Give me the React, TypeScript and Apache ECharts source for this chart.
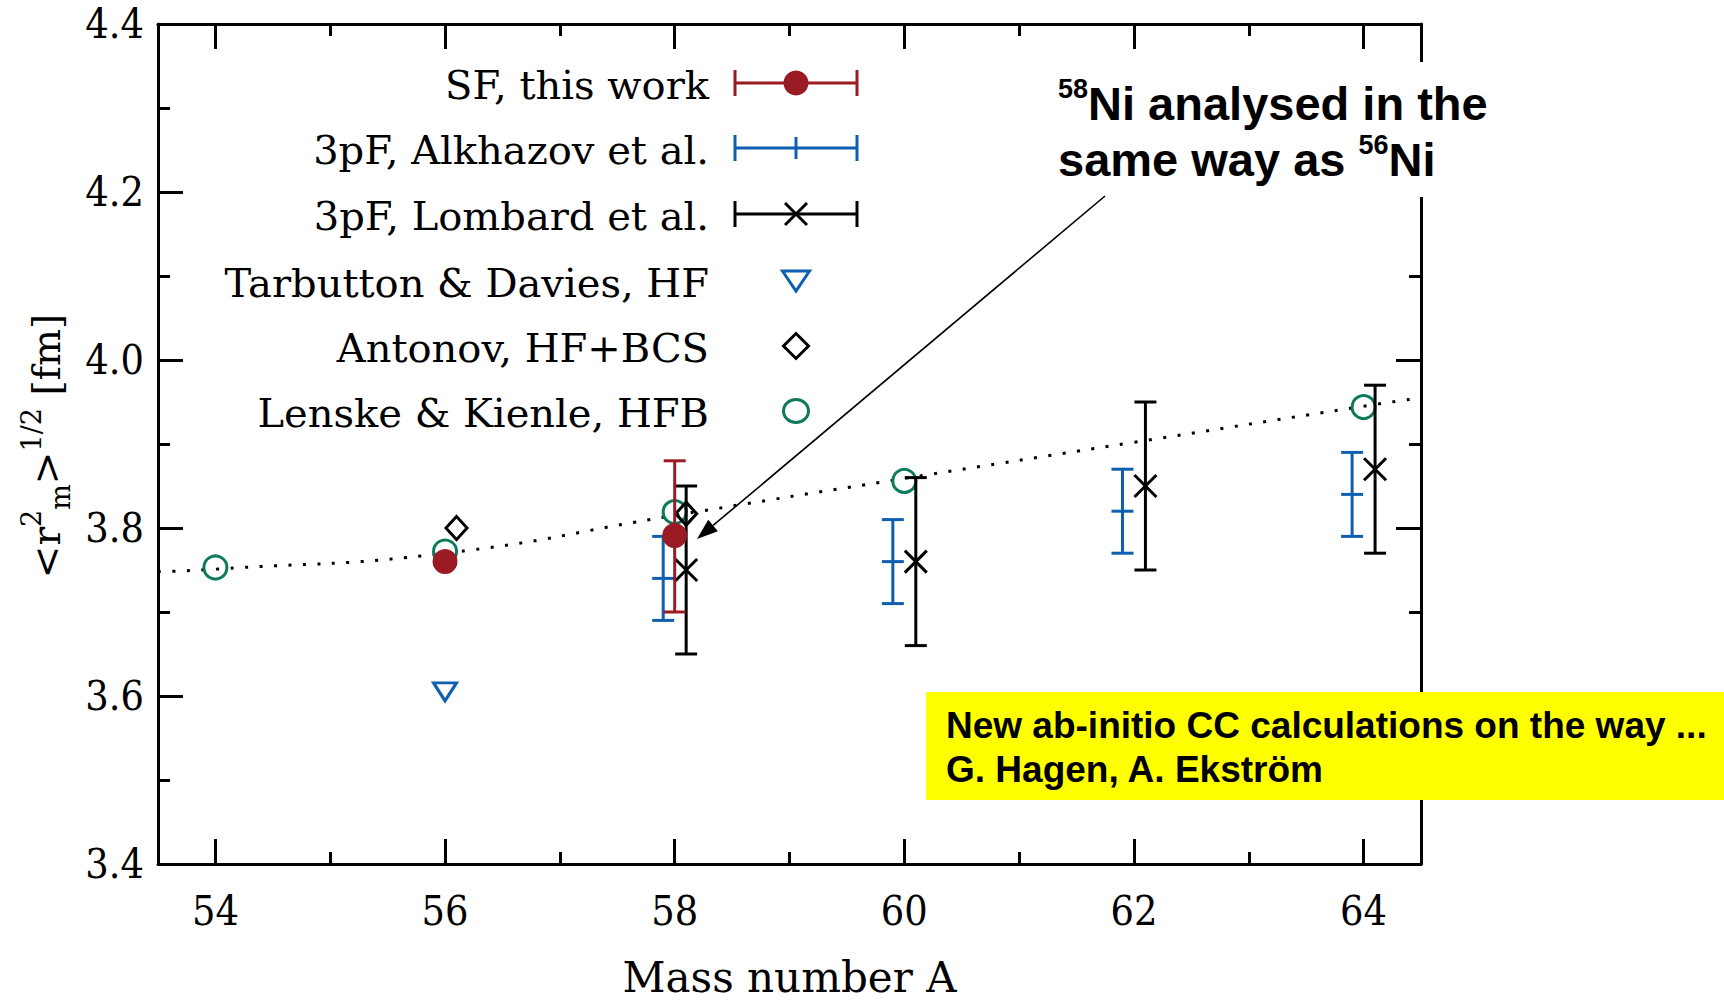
import React, { useEffect, useRef } from "react";
import * as echarts from "echarts";

// ---------- data ----------
const xMajorTicks = [54, 56, 58, 60, 62, 64];
const xMinorTicks = [55, 57, 59, 61, 63];

// SF, this work
const sfA = [56, 58];
const sfR = [3.76, 3.791];
const sfLo = [3.76, 3.7];
const sfHi = [3.76, 3.88];

// 3pF, Alkhazov et al.
const alkA = [57.9, 59.9, 61.9, 63.9];
const alkR = [3.74, 3.76, 3.82, 3.84];
const alkLo = [3.69, 3.71, 3.77, 3.79];
const alkHi = [3.79, 3.81, 3.87, 3.89];

// 3pF, Lombard et al.
const lomA = [58.1, 60.1, 62.1, 64.1];
const lomR = [3.75, 3.76, 3.85, 3.87];
const lomLo = [3.65, 3.66, 3.75, 3.77];
const lomHi = [3.85, 3.86, 3.95, 3.97];

// Tarbutton & Davies, HF
const tarA = [56];
const tarR = [3.605];

// Antonov, HF+BCS
const antA = [56.1, 58.1];
const antR = [3.8, 3.817];

// Lenske & Kienle, HFB
const lenA = [54, 56, 58, 60, 64];
const lenR = [3.753, 3.772, 3.819, 3.856, 3.944];

// dotted trend curve
const trendA = [53.5, 54, 56, 58, 60, 62, 64, 64.5];
const trendR = [3.748, 3.751, 3.77, 3.815, 3.859, 3.902, 3.945, 3.955];

const legendLabels = [
  "SF, this work",
  "3pF, Alkhazov et al.",
  "3pF, Lombard et al.",
  "Tarbutton & Davies, HF",
  "Antonov, HF+BCS",
  "Lenske & Kienle, HFB",
];
const xTitle = "Mass number A";
const noteLines = ["New ab-initio CC calculations on the way ...", "G. Hagen, A. Ekström"];

// ---------- styles ----------
const RED = "#9b1b24";
const BLUE = "#0f5fb0";
const GREEN = "#0e7a5c";
const BLACK = "#000000";
const SERIF = "DejaVu Serif";
const TICKFONT = "'DejaVu Serif Condensed', 'DejaVu Serif'";
const SANS = "Liberation Sans";

const errorBarRender = (color: string, marker: string) => (params: any, api: any) => {
  const x = api.value(0);
  const y = api.value(1);
  const lo = api.value(2);
  const hi = api.value(3);
  const c = api.coord([x, y]);
  const top = api.coord([x, hi])[1];
  const bot = api.coord([x, lo])[1];
  const hw = 11;
  const st = { stroke: color, lineWidth: 3, fill: null };
  const children: any[] = [];
  if (hi > lo) {
    children.push({ type: "line", shape: { x1: c[0], y1: top, x2: c[0], y2: bot }, style: st });
    children.push({ type: "line", shape: { x1: c[0] - hw, y1: top, x2: c[0] + hw, y2: top }, style: st });
    children.push({ type: "line", shape: { x1: c[0] - hw, y1: bot, x2: c[0] + hw, y2: bot }, style: st });
  }
  if (marker === "dot") {
    children.push({ type: "circle", shape: { cx: c[0], cy: c[1], r: 12.5 }, style: { fill: color } });
  } else if (marker === "tick") {
    children.push({ type: "line", shape: { x1: c[0] - hw, y1: c[1], x2: c[0] + hw, y2: c[1] }, style: st });
  } else if (marker === "cross") {
    children.push({ type: "line", shape: { x1: c[0] - 11, y1: c[1] - 11, x2: c[0] + 11, y2: c[1] + 11 }, style: st });
    children.push({ type: "line", shape: { x1: c[0] - 11, y1: c[1] + 11, x2: c[0] + 11, y2: c[1] - 11 }, style: st });
  }
  return { type: "group", children };
};

function legendGraphics(): any[] {
  const rows = [83, 148, 214, 281, 346, 411];
  const tx = 709;
  const x0 = 735;
  const x1 = 857;
  const cx = 796;
  const Z = 100;
  const els: any[] = [];
  rows.forEach((ry, i) => {
    els.push({
      type: "text",
      z: Z,
      x: tx,
      y: ry + 2,
      style: { text: legendLabels[i], align: "right", verticalAlign: "middle", fontSize: 40, fontFamily: SERIF, fill: BLACK },
    });
  });
  const bar = (ry: number, color: string) => {
    const st = { stroke: color, lineWidth: 3 };
    els.push({ type: "line", z: Z, shape: { x1: x0, y1: ry, x2: x1, y2: ry }, style: st });
    els.push({ type: "line", z: Z, shape: { x1: x0, y1: ry - 13, x2: x0, y2: ry + 13 }, style: st });
    els.push({ type: "line", z: Z, shape: { x1: x1, y1: ry - 13, x2: x1, y2: ry + 13 }, style: st });
  };
  bar(rows[0], RED);
  els.push({ type: "circle", z: Z, shape: { cx, cy: rows[0], r: 12.5 }, style: { fill: RED } });
  bar(rows[1], BLUE);
  els.push({ type: "line", z: Z, shape: { x1: cx, y1: rows[1] - 11, x2: cx, y2: rows[1] + 11 }, style: { stroke: BLUE, lineWidth: 3 } });
  bar(rows[2], BLACK);
  els.push({ type: "line", z: Z, shape: { x1: cx - 11, y1: rows[2] - 11, x2: cx + 11, y2: rows[2] + 11 }, style: { stroke: BLACK, lineWidth: 3 } });
  els.push({ type: "line", z: Z, shape: { x1: cx - 11, y1: rows[2] + 11, x2: cx + 11, y2: rows[2] - 11 }, style: { stroke: BLACK, lineWidth: 3 } });
  els.push({
    type: "polygon",
    z: Z,
    shape: { points: [[cx - 13.5, rows[3] - 10], [cx + 13.5, rows[3] - 10], [cx, rows[3] + 10]] },
    style: { fill: "none", stroke: BLUE, lineWidth: 3 },
  });
  els.push({
    type: "polygon",
    z: Z,
    shape: { points: [[cx, rows[4] - 12.5], [cx + 12.5, rows[4]], [cx, rows[4] + 12.5], [cx - 12.5, rows[4]]] },
    style: { fill: "none", stroke: BLACK, lineWidth: 3 },
  });
  els.push({ type: "ellipse", z: Z, shape: { cx, cy: rows[5], rx: 12.5, ry: 11.5 }, style: { fill: "none", stroke: GREEN, lineWidth: 3 } });
  return els;
}

function annotationGraphics(): any[] {
  const Z = 100;
  const tail = [1105, 196];
  const tip = [697, 539];
  const dx = tip[0] - tail[0];
  const dy = tip[1] - tail[1];
  const len = Math.sqrt(dx * dx + dy * dy);
  const ux = dx / len;
  const uy = dy / len;
  const hl = 21;
  const hw = 7.5;
  const bx = tip[0] - ux * hl;
  const by = tip[1] - uy * hl;
  const nx = -uy;
  const ny = ux;
  return [
    { type: "rect", z: Z - 1, shape: { x: 1045, y: 62, width: 470, height: 135 }, style: { fill: "#ffffff" } },
    {
      type: "text",
      z: Z,
      x: 1058,
      y: 75,
      style: {
        text: "{s|58}{b|Ni analysed in the}\n{b|same way as }{s|56}{b|Ni}",
        align: "left",
        verticalAlign: "top",
        rich: {
          b: { fontSize: 47, fontWeight: "bold", fontFamily: SANS, lineHeight: 56, fill: BLACK },
          s: { fontSize: 27, fontWeight: "bold", fontFamily: SANS, lineHeight: 42, verticalAlign: "top", fill: BLACK },
        },
      },
    },
    { type: "line", z: Z, shape: { x1: tail[0], y1: tail[1], x2: bx, y2: by }, style: { stroke: BLACK, lineWidth: 1.6 } },
    {
      type: "polygon",
      z: Z,
      shape: { points: [[tip[0], tip[1]], [bx + nx * hw, by + ny * hw], [bx - nx * hw, by - ny * hw]] },
      style: { fill: BLACK },
    },
    { type: "rect", z: Z - 1, shape: { x: 926, y: 692, width: 798, height: 108 }, style: { fill: "#ffff00" } },
    {
      type: "text",
      z: Z,
      x: 946,
      y: 703,
      style: {
        text: noteLines.join("\n"),
        align: "left",
        verticalAlign: "top",
        fontSize: 37,
        fontWeight: "bold",
        fontFamily: SANS,
        lineHeight: 44,
        fill: BLACK,
      },
    },
    {
      type: "text",
      z: Z,
      x: 46,
      y: 446,
      rotation: Math.PI / 2,
      style: {
        text: "{b|<r}{p|2}{m|m}{b|>}{p|1/2}{b| [fm]}",
        align: "center",
        verticalAlign: "middle",
        rich: {
          b: { fontSize: 39, fontFamily: SERIF, lineHeight: 56, fill: BLACK },
          p: { fontSize: 27, fontFamily: SERIF, lineHeight: 28, verticalAlign: "top", fill: BLACK },
          m: { fontSize: 27, fontFamily: SERIF, lineHeight: 28, verticalAlign: "bottom", fill: BLACK },
        },
      },
    },
  ];
}

function makeXAxis(position: string, ticks: number[], len: number, main: boolean): any {
  return {
    type: "value",
    min: 53.5,
    max: 64.5,
    position,
    axisLine: { show: main, onZero: false, lineStyle: { color: BLACK, width: 3 } },
    axisTick: { show: true, inside: true, length: len, customValues: ticks, lineStyle: { color: BLACK, width: 3 } },
    axisLabel: { show: false },
    splitLine: { show: false },
  };
}

function makeYAxis(position: string, labels: boolean): any {
  return {
    type: "value",
    min: 3.4,
    max: 4.4,
    interval: 0.2,
    position,
    axisLine: { show: true, onZero: false, lineStyle: { color: BLACK, width: 3 } },
    axisTick: { show: true, inside: true, length: 25, lineStyle: { color: BLACK, width: 3 } },
    minorTick: { show: true, splitNumber: 2, length: 12, lineStyle: { color: BLACK, width: 3 } },
    axisLabel: {
      show: labels,
      margin: 14,
      fontSize: 41,
      fontFamily: TICKFONT,
      color: BLACK,
      padding: [4, 0, 0, 0],
      formatter: (v: number) => v.toFixed(1),
    },
    splitLine: { show: false },
    minorSplitLine: { show: false },
  };
}

const bottomMain = makeXAxis("bottom", xMajorTicks, 25, true);
bottomMain.axisLabel = { show: true, customValues: xMajorTicks, margin: 26, fontSize: 41, fontFamily: TICKFONT, color: BLACK };
bottomMain.name = xTitle;
bottomMain.nameLocation = "middle";
bottomMain.nameGap = 93;
bottomMain.nameTextStyle = { fontSize: 42, lineHeight: 40, fontFamily: SERIF, color: BLACK };

const option: any = {
  animation: false,
  backgroundColor: "#ffffff",
  grid: { left: 158, right: 303, top: 24, bottom: 136, containLabel: false, outerBoundsMode: "none" },
  xAxis: [
    bottomMain,
    makeXAxis("bottom", xMinorTicks, 12, false),
    makeXAxis("top", xMajorTicks, 25, true),
    makeXAxis("top", xMinorTicks, 12, false),
  ],
  yAxis: [makeYAxis("left", true), makeYAxis("right", false)],
  series: [
    {
      name: "trend",
      type: "line",
      smooth: true,
      showSymbol: false,
      silent: true,
      z: 1,
      data: trendA.map((a, i) => [a, trendR[i]]),
      lineStyle: { color: BLACK, width: 3, type: [3, 11.5], cap: "butt" },
    },
    {
      name: legendLabels[5],
      type: "scatter",
      silent: true,
      z: 3,
      symbol: "circle",
      symbolSize: 23,
      data: lenA.map((a, i) => [a, lenR[i]]),
      itemStyle: { color: "rgba(0,0,0,0)", borderColor: GREEN, borderWidth: 3, opacity: 1 },
    },
    {
      name: legendLabels[4],
      type: "scatter",
      silent: true,
      z: 3,
      symbol: "diamond",
      symbolSize: [21, 23],
      data: antA.map((a, i) => [a, antR[i]]),
      itemStyle: { color: "rgba(0,0,0,0)", borderColor: BLACK, borderWidth: 3, opacity: 1 },
    },
    {
      name: legendLabels[3],
      type: "scatter",
      silent: true,
      z: 3,
      symbol: "triangle",
      symbolRotate: 180,
      symbolSize: [23, 18],
      data: tarA.map((a, i) => [a, tarR[i]]),
      itemStyle: { color: "rgba(0,0,0,0)", borderColor: BLUE, borderWidth: 3, opacity: 1 },
    },
    {
      name: legendLabels[1],
      type: "custom",
      silent: true,
      z: 4,
      renderItem: errorBarRender(BLUE, "tick"),
      encode: { x: 0, y: 1 },
      data: alkA.map((a, i) => [a, alkR[i], alkLo[i], alkHi[i]]),
    },
    {
      name: legendLabels[2],
      type: "custom",
      silent: true,
      z: 4,
      renderItem: errorBarRender(BLACK, "cross"),
      encode: { x: 0, y: 1 },
      data: lomA.map((a, i) => [a, lomR[i], lomLo[i], lomHi[i]]),
    },
    {
      name: legendLabels[0],
      type: "custom",
      silent: true,
      z: 5,
      renderItem: errorBarRender(RED, "dot"),
      encode: { x: 0, y: 1 },
      data: sfA.map((a, i) => [a, sfR[i], sfLo[i], sfHi[i]]),
    },
  ],
  graphic: { elements: [...legendGraphics(), ...annotationGraphics()] },
};

export default function App() {
  const ref = useRef<HTMLDivElement>(null);
  useEffect(() => {
    if (!ref.current) return;
    const chart = echarts.init(ref.current, undefined, { renderer: "svg" });
    chart.setOption(option);
    return () => chart.dispose();
  }, []);
  return (
    <div
      ref={ref}
      style={{ position: "fixed", left: 0, top: 0, width: 1724, height: 1000, background: "#ffffff" }}
    />
  );
}
